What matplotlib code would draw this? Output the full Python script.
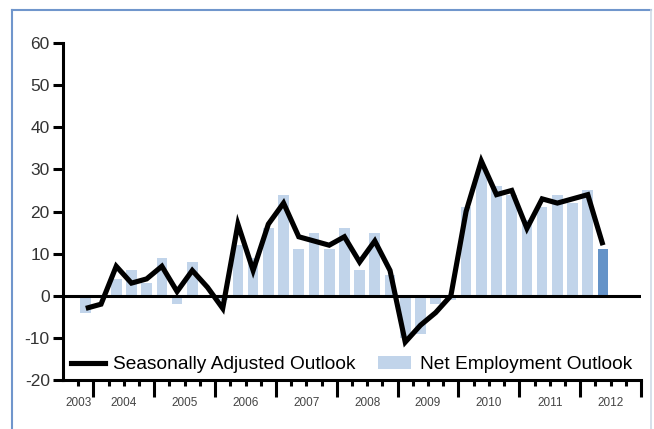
import numpy as np
import matplotlib.pyplot as plt
from matplotlib.lines import Line2D
from matplotlib.patches import Patch

plt.rcParams['font.family'] = ['Liberation Sans', 'DejaVu Sans']
plt.rcParams['axes.unicode_minus'] = False

# ---- data (quarterly, first slot of 2003 left empty) ----
years = ['2003', '2004', '2005', '2006', '2007', '2008', '2009', '2010', '2011', '2012']
slots_per_year = [2, 4, 4, 4, 4, 4, 4, 4, 4, 4]
first_slot = 1
net_outlook = [-4, 0, 4, 6, 3, 9, -2, 8, 0, -1, 12, 9, 16, 24, 11, 15, 11, 16, 6, 15,
               5, -10, -9, -2, -1, 21, 30, 26, 24, 18, 21, 24, 22, 25, 11]
seasonal_outlook = [-3, -2, 7, 3, 4, 7, 1, 6, 2, -3, 17, 6, 17, 22, 14, 13, 12, 14, 8, 13,
                    6, -11, -7, -4, 0, 20, 32, 24, 25, 16, 23, 22, 23, 24, 12]

light_blue = '#c1d4ea'
dark_blue = '#6593c8'

fig = plt.figure(figsize=(6.54, 4.29), dpi=100)
W, H = 654, 429
ax = fig.add_axes([63 / W, 1 - 380 / H, (641 - 63) / W, (380 - 43) / H])

x = np.arange(len(net_outlook)) + first_slot + 0.5
bar_colors = [light_blue] * (len(net_outlook) - 1) + [dark_blue]
ax.bar(x, net_outlook, width=0.7, color=bar_colors, zorder=1)
ax.axhline(0, color='black', lw=2.2, zorder=2)
ax.plot(x, seasonal_outlook, color='black', lw=3.7, solid_joinstyle='miter',
        solid_capstyle='butt', zorder=3)

# axes
total_slots = sum(slots_per_year)
ax.set_xlim(0, total_slots)
ax.set_ylim(-20, 60)
ax.set_yticks(range(-20, 61, 10))
bounds = np.cumsum(slots_per_year)
ax.set_xticks(bounds)
ax.set_xticks([i for i in range(1, total_slots) if i not in bounds], minor=True)
ax.set_xticklabels([])
ax.tick_params(axis='y', direction='out', length=7.5, width=2.2, labelsize=12.5,
               pad=2, labelcolor='#333333')
ax.tick_params(axis='x', which='major', direction='out', length=12, width=2.2)
ax.tick_params(axis='x', which='minor', direction='out', length=4.5, width=2.2)
for s in ['top', 'right']:
    ax.spines[s].set_visible(False)
for s in ['left', 'bottom']:
    ax.spines[s].set_linewidth(2.2)

# year labels centred in each year block
starts = np.concatenate([[0], bounds[:-1]])
for yr, a, b in zip(years, starts, bounds):
    ax.text((a + b) / 2, -0.068, yr, transform=ax.get_xaxis_transform(),
            ha='center', va='center', fontsize=8.5, color='#444444')

# legend
handles = [Line2D([0], [0], color='black', lw=3.7),
           Patch(facecolor=light_blue)]
ax.legend(handles, ['Seasonally Adjusted Outlook', 'Net Employment Outlook'],
          ncol=2, loc='lower left', bbox_to_anchor=(-0.006, -0.014), frameon=False,
          fontsize=13.8, handlelength=1.75, handletextpad=0.45, columnspacing=1.15,
          borderaxespad=0.2)

# outer frame
fig.add_artist(Line2D([12 / W, 12 / W], [0, 1 - 9.5 / H], transform=fig.transFigure,
                      color='#7096cc', lw=1.5))
fig.add_artist(Line2D([12 / W, 651 / W], [1 - 9.5 / H, 1 - 9.5 / H],
                      transform=fig.transFigure, color='#7096cc', lw=1.5))
fig.add_artist(Line2D([651 / W, 651 / W], [0, 1 - 9.5 / H], transform=fig.transFigure,
                      color='#d0dae6', lw=1.2))

fig.savefig('out.png', dpi=100)
